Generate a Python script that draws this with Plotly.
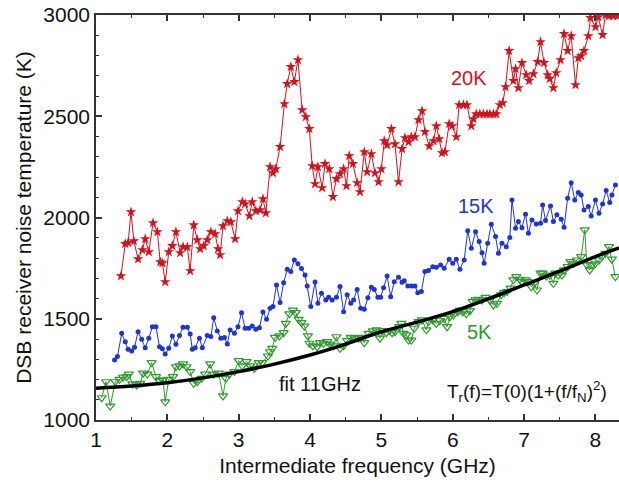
import plotly.graph_objects as go

# ---------------- data ----------------
red_f = [1.35,1.41,1.45,1.49,1.53,1.59,1.65,1.69,1.74,1.80,
         1.86,1.90,1.93,1.97,2.02,2.07,2.12,2.18,2.22,2.28,
         2.32,2.37,2.42,2.46,2.51,2.56,2.61,2.67,2.71,2.74,
         2.78,2.84,2.89,2.95,2.99,3.05,3.09,3.15,3.19,3.24,
         3.30,3.34,3.38,3.44,3.48,3.52,3.58,3.64,3.68,3.73,
         3.78,3.83,3.89,3.94,3.99,4.03,4.07,4.11,4.17,4.21,
         4.27,4.32,4.37,4.42,4.47,4.51,4.55,4.60,4.66,4.70,
         4.76,4.80,4.86,4.91,4.96,5.00,5.04,5.08,5.14,5.19,
         5.24,5.29,5.33,5.38,5.42,5.47,5.52,5.57,5.61,5.67,
         5.73,5.77,5.81,5.85,5.89,5.95,5.99,6.05,6.09,6.15,
         6.20,6.26,6.29,6.33,6.38,6.43,6.48,6.52,6.57,6.61,
         6.66,6.70,6.74,6.79,6.85,6.88,6.92,6.97,7.03,7.07,
         7.13,7.19,7.23,7.28,7.33,7.36,7.41,7.45,7.51,7.56,
         7.61,7.66,7.72,7.76,7.80,7.84,7.90,7.93,8.00,8.04,
         8.10,8.14,8.19,8.25,8.31]
red_T = [1711,1870,1875,2027,1884,1795,1840,1894,1830,1973,
         1929,1780,1775,1682,1830,1860,1929,1825,1855,1855,
         1736,1963,1889,1845,1860,1889,1929,1919,1845,1815,
         1958,1983,1978,1894,2032,2077,2067,2008,2077,2032,
         2037,2092,2022,2250,2220,2240,2349,2561,2660,2744,
         2670,2778,2531,2497,2438,2255,2166,2250,2146,2265,
         2240,2102,2191,2215,2240,2156,2304,2265,2171,2126,
         2324,2225,2314,2220,2176,2240,2378,2358,2438,2363,
         2176,2339,2393,2373,2398,2398,2482,2526,2423,2353,
         2378,2452,2388,2319,2324,2462,2452,2398,2556,2556,
         2556,2452,2487,2511,2511,2511,2511,2511,2511,2511,
         2556,2566,2645,2823,2675,2734,2640,2764,2704,2675,
         2709,2769,2867,2764,2704,2685,2640,2714,2778,2907,
         2823,2897,2655,2788,2798,2823,2897,2986,2941,2990,
         2902,3000,2995,2995,2995]

blue_f = [1.26,1.30,1.36,1.41,1.45,1.50,1.54,1.59,1.64,1.69,
          1.74,1.79,1.84,1.89,1.93,1.97,2.02,2.07,2.12,2.17,
          2.22,2.28,2.32,2.35,2.39,2.45,2.49,2.56,2.61,2.65,
          2.70,2.75,2.80,2.84,2.88,2.94,2.99,3.04,3.09,3.14,
          3.19,3.24,3.29,3.34,3.39,3.44,3.48,3.53,3.58,3.63,
          3.68,3.73,3.78,3.83,3.88,3.93,3.96,4.01,4.07,4.11,
          4.16,4.22,4.26,4.31,4.37,4.42,4.47,4.52,4.57,4.61,
          4.66,4.71,4.76,4.81,4.86,4.90,4.95,4.99,5.03,5.08,
          5.13,5.18,5.24,5.29,5.32,5.37,5.42,5.47,5.51,5.56,
          5.61,5.66,5.72,5.77,5.83,5.88,5.95,6.00,6.05,6.10,
          6.16,6.21,6.26,6.32,6.37,6.41,6.44,6.49,6.54,6.60,
          6.64,6.69,6.75,6.80,6.83,6.88,6.92,6.97,7.02,7.06,
          7.11,7.17,7.23,7.26,7.30,7.37,7.41,7.46,7.52,7.56,
          7.61,7.66,7.71,7.76,7.80,7.84,7.90,7.94,8.00,8.05,
          8.10,8.15,8.20,8.23,8.28]
blue_T = [1296,1313,1428,1387,1349,1341,1359,1436,1399,1357,
          1404,1461,1461,1362,1352,1326,1354,1415,1374,1417,
          1458,1458,1425,1349,1357,1404,1357,1417,1412,1505,
          1440,1404,1407,1375,1445,1428,1461,1530,1453,1453,
          1464,1448,1456,1533,1497,1552,1560,1667,1580,1678,
          1744,1733,1790,1771,1748,1716,1662,1560,1682,1576,
          1626,1593,1606,1593,1606,1659,1535,1618,1576,1593,
          1645,1552,1547,1604,1655,1645,1606,1606,1653,1711,
          1609,1683,1705,1680,1688,1662,1662,1662,1629,1634,
          1733,1738,1757,1754,1765,1749,1794,1774,1794,1744,
          1790,1934,1848,1930,1881,1826,1774,1873,1967,1906,
          1823,1873,1856,1901,2087,1947,1980,1950,2016,1922,
          1988,1968,1971,2062,1985,2057,1980,2013,1991,1952,
          2095,2172,2087,2123,2111,2037,2054,2008,2087,2021,
          2067,2133,2074,2111,2161]

green_f = [1.08,1.14,1.20,1.27,1.33,1.38,1.43,1.46,1.51,1.57,
           1.62,1.66,1.72,1.78,1.84,1.89,1.94,1.97,2.02,2.08,
           2.12,2.17,2.22,2.27,2.32,2.37,2.42,2.48,2.53,2.60,
           2.65,2.72,2.78,2.82,2.87,2.94,3.00,3.05,3.11,3.16,
           3.22,3.28,3.33,3.41,3.44,3.47,3.51,3.57,3.63,3.66,
           3.71,3.76,3.80,3.84,3.88,3.92,3.97,3.99,4.04,4.10,
           4.14,4.19,4.24,4.28,4.33,4.37,4.42,4.47,4.52,4.57,
           4.62,4.68,4.71,4.76,4.82,4.88,4.93,4.98,5.02,5.07,
           5.11,5.15,5.19,5.25,5.28,5.31,5.35,5.38,5.42,5.46,
           5.52,5.57,5.63,5.66,5.72,5.77,5.82,5.88,5.92,5.96,
           6.01,6.07,6.10,6.14,6.19,6.24,6.28,6.32,6.36,6.41,
           6.46,6.52,6.57,6.62,6.68,6.72,6.76,6.81,6.85,6.89,
           6.94,6.97,7.02,7.05,7.10,7.14,7.18,7.23,7.26,7.31,
           7.36,7.41,7.44,7.48,7.53,7.56,7.61,7.65,7.69,7.74,
           7.80,7.85,7.88,7.92,7.95,8.00,8.05,8.09,8.14,8.19,
           8.23,8.28]
green_T = [1110,1189,1069,1189,1201,1211,1214,1227,1178,1173,
           1181,1231,1227,1283,1214,1194,1198,1090,1201,1214,
           1263,1267,1277,1263,1239,1181,1189,1206,1227,1277,
           1227,1231,1119,1206,1227,1239,1293,1267,1288,1267,
           1255,1283,1283,1316,1337,1354,1408,1415,1431,1477,
           1524,1543,1530,1497,1481,1464,1415,1379,1366,1362,
           1382,1379,1387,1375,1366,1411,1354,1366,1392,1408,
           1404,1404,1408,1382,1428,1440,1445,1404,1441,1431,
           1441,1431,1436,1461,1477,1428,1420,1395,1395,1453,
           1486,1494,1445,1486,1494,1477,1490,1502,1461,1510,
           1519,1535,1543,1535,1524,1540,1585,1593,1596,1593,
           1606,1593,1568,1576,1618,1629,1634,1651,1692,1708,
           1695,1683,1692,1683,1658,1675,1642,1725,1725,1711,
           1716,1675,1725,1716,1716,1741,1757,1782,1774,1790,
           1807,1939,1766,1741,1766,1774,1790,1807,1823,1856,
           1794,1708]

fit_f = [1.0, 1.5, 2.0, 2.5, 3.0, 3.5, 4.0, 4.5, 5.0, 5.5, 6.0, 6.5, 7.0, 7.5, 8.0, 8.33]
fit_T = [1157, 1168, 1184, 1208, 1239, 1276, 1321, 1375, 1436, 1483, 1535, 1598, 1667, 1735, 1807, 1850]

x_ticks = [1, 2, 3, 4, 5, 6, 7, 8]
y_ticks = [1000, 1500, 2000, 2500, 3000]

RED = "#d0141e"
BLUE = "#1f35d1"
GREEN = "#2e9a2e"

fig = go.Figure()
fig.add_trace(go.Scatter(x=red_f, y=red_T, mode="lines+markers",
                         line=dict(color=RED, width=1),
                         marker=dict(symbol="star", size=8, color=RED)))
fig.add_trace(go.Scatter(x=blue_f, y=blue_T, mode="lines+markers",
                         line=dict(color=BLUE, width=1),
                         marker=dict(symbol="circle", size=5, color=BLUE)))
fig.add_trace(go.Scatter(x=green_f, y=green_T, mode="lines+markers",
                         line=dict(color=GREEN, width=1),
                         marker=dict(symbol="triangle-down-open", size=8, color=GREEN,
                                     line=dict(width=1.2, color=GREEN))))
fig.add_trace(go.Scatter(x=fit_f, y=fit_T, mode="lines",
                         line=dict(color="black", width=3.5, shape="spline")))

FONT = "Arial, Liberation Sans, sans-serif"
annots = [
    dict(x=6.23, y=2689, text="20K", color=RED, size=20),
    dict(x=6.32, y=2057, text="15K", color=BLUE, size=20),
    dict(x=6.37, y=1435, text="5K", color=GREEN, size=20),
    dict(x=4.14, y=1178, text="fit 11GHz", color="#111", size=20),
    dict(x=7.04, y=1143, text="T<sub>r</sub>(f)=T(0)(1+(f/f<sub>N</sub>)<sup>2</sup>)", color="#111", size=19),
]
for a in annots:
    fig.add_annotation(x=a["x"], y=a["y"], xref="x", yref="y", text=a["text"],
                       showarrow=False, font=dict(family=FONT, size=a["size"], color=a["color"]))

axis_common = dict(showline=True, linecolor="#333", linewidth=1.5, ticks="inside",
                   ticklen=6, tickwidth=1.5, tickcolor="#333", showgrid=False, zeroline=False,
                   automargin=False,
                   tickfont=dict(family=FONT, size=21, color="#111"))
fig.update_xaxes(range=[1, 8.33], tickvals=x_ticks, mirror="ticks",
                 minor=dict(dtick=0.5, tick0=1, ticklen=3, tickwidth=1.2, tickcolor="#333", ticks="inside"),
                 title=dict(text="Intermediate frequency (GHz)", font=dict(family=FONT, size=21, color="#111"), standoff=8),
                 **axis_common)
fig.update_yaxes(range=[1000, 3000], tickvals=y_ticks,
                 minor=dict(dtick=100, tick0=1000, ticklen=3, tickwidth=1.2, tickcolor="#333", ticks="inside"),
                 title=dict(text="DSB receiver noise temperature (K)", font=dict(family=FONT, size=21, color="#111"), standoff=6),
                 **axis_common)
fig.update_layout(width=619, height=489, margin=dict(l=96, r=0, t=15, b=69),
                  plot_bgcolor="white", paper_bgcolor="white", showlegend=False)
fig.write_html("out.html", config={"displayModeBar": False},
               post_script="document.body.style.margin='0px';")
